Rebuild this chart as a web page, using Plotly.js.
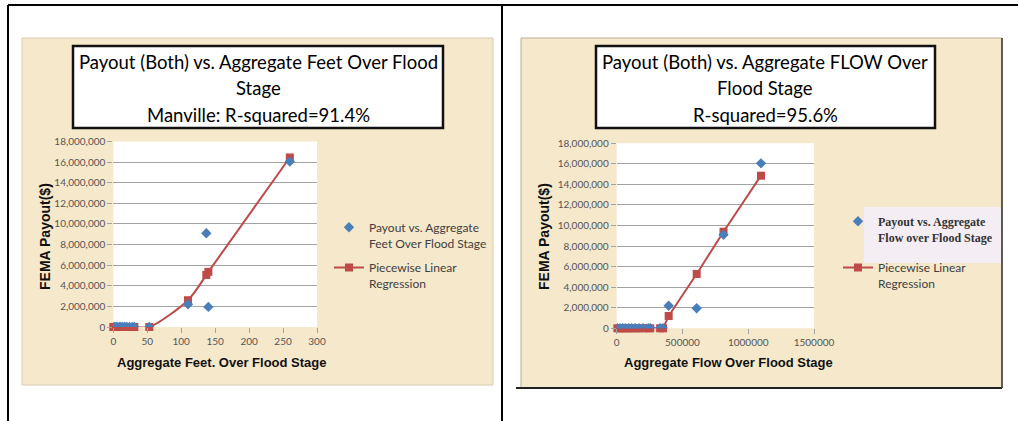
<!DOCTYPE html>
<html><head><meta charset="utf-8">
<script src="https://cdn.plot.ly/plotly-3.0.1.min.js"></script>
<style>html,body{margin:0;padding:0;background:#fff;}#chart{width:1018px;height:421px;}</style>
</head><body><div id="chart"></div>
<script>
// ---- Left chart: Aggregate Feet Over Flood Stage ----
const feetX      = [0, 2, 4, 6, 9, 11, 14, 17, 20, 24, 28, 31, 53, 110, 137, 140, 260];
const feetPayout = [0, 0, 0, 0, 0, 0, 0, 0, 0, 0, 0, 0, 0, 2200000, 9100000, 1950000, 16050000];
const feetFit    = [0, 0, 0, 0, 0, 0, 0, 0, 0, 0, 0, 0, 0, 2600000, 5050000, 5350000, 16450000];
const feetTicks  = [0, 50, 100, 150, 200, 250, 300];

// ---- Right chart: Aggregate FLOW Over Flood Stage ----
const flowX      = [5000, 25000, 45000, 65000, 90000, 115000, 140000, 170000, 200000, 240000, 255000, 330000, 352000, 395000, 608000, 812000, 1097000];
const flowPayout = [0, 0, 0, 0, 0, 0, 0, 0, 0, 0, 0, 0, 0, 2200000, 1950000, 9100000, 16050000];
const flowFit    = [0, 0, 0, 0, 0, 0, 0, 0, 0, 0, 0, 0, 0, 1200000, 5280000, 9400000, 14850000];
const flowTicks  = [0, 500000, 1000000, 1500000];

const payoutTicks = [0, 2000000, 4000000, 6000000, 8000000, 10000000, 12000000, 14000000, 16000000, 18000000];

const titleLeft  = ['Payout (Both) vs. Aggregate Feet Over Flood', 'Stage', 'Manville: R-squared=91.4%'];
const titleRight = ['Payout (Both) vs. Aggregate FLOW Over', 'Flood Stage', 'R-squared=95.6%'];
const xTitleLeft  = 'Aggregate Feet. Over Flood Stage';
const xTitleRight = 'Aggregate Flow Over Flood Stage';
const yTitle = 'FEMA Payout($)';
const nameScatterLeft  = 'Payout vs. Aggregate<br>Feet Over Flood Stage';
const nameScatterRight = '<span style="font-family:Liberation Serif;font-weight:bold;color:#333">Payout vs. Aggregate</span><br><span style="font-family:Liberation Serif;font-weight:bold;color:#333">Flow over Flood Stage</span>';
const nameFit = 'Piecewise Linear<br>Regression';

const W = 1018, H = 421;
const px = x => x / W;
const py = y => 1 - y / H;

const RED = '#BE4B48', BLUE = '#4A7EBB', BEIGE = '#f6e8cb', GRID = '#a3a3a3';

const traces = [
  {x: feetX, y: feetPayout, name: nameScatterLeft, type: 'scatter', mode: 'markers', xaxis: 'x', yaxis: 'y',
   marker: {symbol: 'diamond', size: 8, color: BLUE}, cliponaxis: false, legend: 'legend', legendgroup: 'a', zorder: 2},
  {x: feetX, y: feetFit, name: nameFit, type: 'scatter', mode: 'lines+markers', xaxis: 'x', yaxis: 'y',
   line: {color: RED, width: 2, shape: 'spline', smoothing: 0.8}, marker: {symbol: 'square', size: 8, color: RED},
   cliponaxis: false, legend: 'legend', legendgroup: 'b', zorder: 1},
  {x: flowX, y: flowPayout, name: nameScatterRight, type: 'scatter', mode: 'markers', xaxis: 'x2', yaxis: 'y2',
   marker: {symbol: 'diamond', size: 8, color: BLUE}, cliponaxis: false, legend: 'legend2', legendgroup: 'c', zorder: 2},
  {x: flowX, y: flowFit, name: nameFit, type: 'scatter', mode: 'lines+markers', xaxis: 'x2', yaxis: 'y2',
   line: {color: RED, width: 2}, marker: {symbol: 'square', size: 8, color: RED},
   cliponaxis: false, legend: 'legend2', legendgroup: 'd', zorder: 1}
];

const tickFont = {family: 'Lato, sans-serif', size: 10, color: '#555'};
function xax(domain, range, ticks, fmt, anchor) {
  return {domain, range, tickvals: ticks, tickformat: fmt, anchor, showgrid: false, zeroline: false,
    showline: true, linecolor: GRID, linewidth: 1, ticks: 'outside', ticklen: 5, tickcolor: GRID,
    tickfont: tickFont, fixedrange: true};
}
function yax(domain, anchor) {
  return {domain, range: [0, 18000000], tickvals: payoutTicks, tickformat: ',d', anchor, showgrid: true,
    gridcolor: GRID, gridwidth: 1, zeroline: false, showline: true, linecolor: GRID, linewidth: 1,
    ticks: 'outside', ticklen: 5, tickcolor: GRID, tickfont: tickFont, fixedrange: true};
}

const shapes = [
  {type: 'rect', xref: 'paper', yref: 'paper', x0: px(22), x1: px(493), y0: py(385), y1: py(38),
   fillcolor: BEIGE, line: {color: '#d9cbb0', width: 1}, layer: 'below'},
  {type: 'rect', xref: 'paper', yref: 'paper', x0: px(521), x1: px(1002), y0: py(388), y1: py(38),
   fillcolor: BEIGE, line: {color: '#b9ad98', width: 1}, layer: 'below'},
  {type: 'rect', xref: 'x domain', yref: 'y domain', x0: 0, x1: 1, y0: 0, y1: 1, fillcolor: '#fff', line: {width: 0}, layer: 'below'},
  {type: 'rect', xref: 'x2 domain', yref: 'y2 domain', x0: 0, x1: 1, y0: 0, y1: 1, fillcolor: '#fff', line: {width: 0}, layer: 'below'},
  {type: 'rect', xref: 'paper', yref: 'paper', x0: px(864), x1: px(1001), y0: py(263), y1: py(207),
   fillcolor: '#f4eef4', line: {width: 0}, layer: 'below'},
  {type: 'rect', xref: 'paper', yref: 'paper', x0: px(73), x1: px(443), y0: py(128), y1: py(46),
   fillcolor: '#fff', line: {color: '#111', width: 2.5}},
  {type: 'rect', xref: 'paper', yref: 'paper', x0: px(596), x1: px(935), y0: py(128), y1: py(46),
   fillcolor: '#fff', line: {color: '#111', width: 2.5}},
  {type: 'line', xref: 'paper', yref: 'paper', x0: px(8), x1: 1, y0: py(5), y1: py(5), line: {color: '#000', width: 2}},
  {type: 'line', xref: 'paper', yref: 'paper', x0: px(8), x1: px(8), y0: py(5), y1: 0, line: {color: '#000', width: 2}},
  {type: 'line', xref: 'paper', yref: 'paper', x0: px(502), x1: px(502), y0: py(5), y1: 0, line: {color: '#000', width: 2}},
  {type: 'line', xref: 'paper', yref: 'paper', x0: px(516), x1: px(1002), y0: py(388), y1: py(388), line: {color: '#222', width: 2}},
  {type: 'line', xref: 'paper', yref: 'paper', x0: px(1002), x1: px(1002), y0: py(388), y1: py(38), line: {color: '#333', width: 1.5}}
];

const titleFont = {family: 'Lato, sans-serif', size: 18.5, color: '#000'};
const annotations = [];
const lineY = [62, 88, 115];
titleLeft.forEach((t, i) => annotations.push({text: t, xref: 'paper', yref: 'paper', x: px(258), y: py(lineY[i]),
  xanchor: 'center', yanchor: 'middle', showarrow: false, font: titleFont}));
titleRight.forEach((t, i) => annotations.push({text: t, xref: 'paper', yref: 'paper', x: px(765), y: py(lineY[i]),
  xanchor: 'center', yanchor: 'middle', showarrow: false, font: titleFont}));
const axFont = {family: 'Liberation Sans, Arial, sans-serif', size: 13, color: '#111'};
annotations.push({text: '<b>' + xTitleLeft + '</b>', xref: 'paper', yref: 'paper', x: px(222), y: py(362),
  xanchor: 'center', yanchor: 'middle', showarrow: false, font: axFont});
annotations.push({text: '<b>' + xTitleRight + '</b>', xref: 'paper', yref: 'paper', x: px(728), y: py(362),
  xanchor: 'center', yanchor: 'middle', showarrow: false, font: axFont});
const yFont = Object.assign({}, axFont, {size: 14});
annotations.push({text: '<b>' + yTitle + '</b>', xref: 'paper', yref: 'paper', x: px(45), y: py(237), textangle: -90,
  xanchor: 'center', yanchor: 'middle', showarrow: false, font: yFont});
annotations.push({text: '<b>' + yTitle + '</b>', xref: 'paper', yref: 'paper', x: px(544), y: py(237), textangle: -90,
  xanchor: 'center', yanchor: 'middle', showarrow: false, font: yFont});

const legFont = {family: 'Lato, sans-serif', size: 12, color: '#404040'};
const layout = {
  width: W, height: H, margin: {l: 0, r: 0, t: 0, b: 0},
  paper_bgcolor: '#fff', plot_bgcolor: 'rgba(0,0,0,0)',
  showlegend: true,
  xaxis: xax([px(113.3), px(317)], [0, 300], feetTicks, 'd', 'y'),
  yaxis: yax([py(327), py(141.5)], 'x'),
  xaxis2: xax([px(616.7), px(814)], [0, 1500000], flowTicks, 'd', 'y2'),
  yaxis2: yax([py(328.3), py(143.3)], 'x2'),
  legend: {x: px(329), y: py(213), xanchor: 'left', yanchor: 'top', bgcolor: 'rgba(0,0,0,0)',
    font: legFont, valign: 'top', traceorder: 'grouped', tracegroupgap: 6},
  legend2: {x: px(838), y: py(207), xanchor: 'left', yanchor: 'top', bgcolor: 'rgba(0,0,0,0)',
    font: legFont, valign: 'top', traceorder: 'grouped', tracegroupgap: 12},
  shapes, annotations
};

Plotly.newPlot('chart', traces, layout, {staticPlot: true, displayModeBar: false});
</script></body></html>
